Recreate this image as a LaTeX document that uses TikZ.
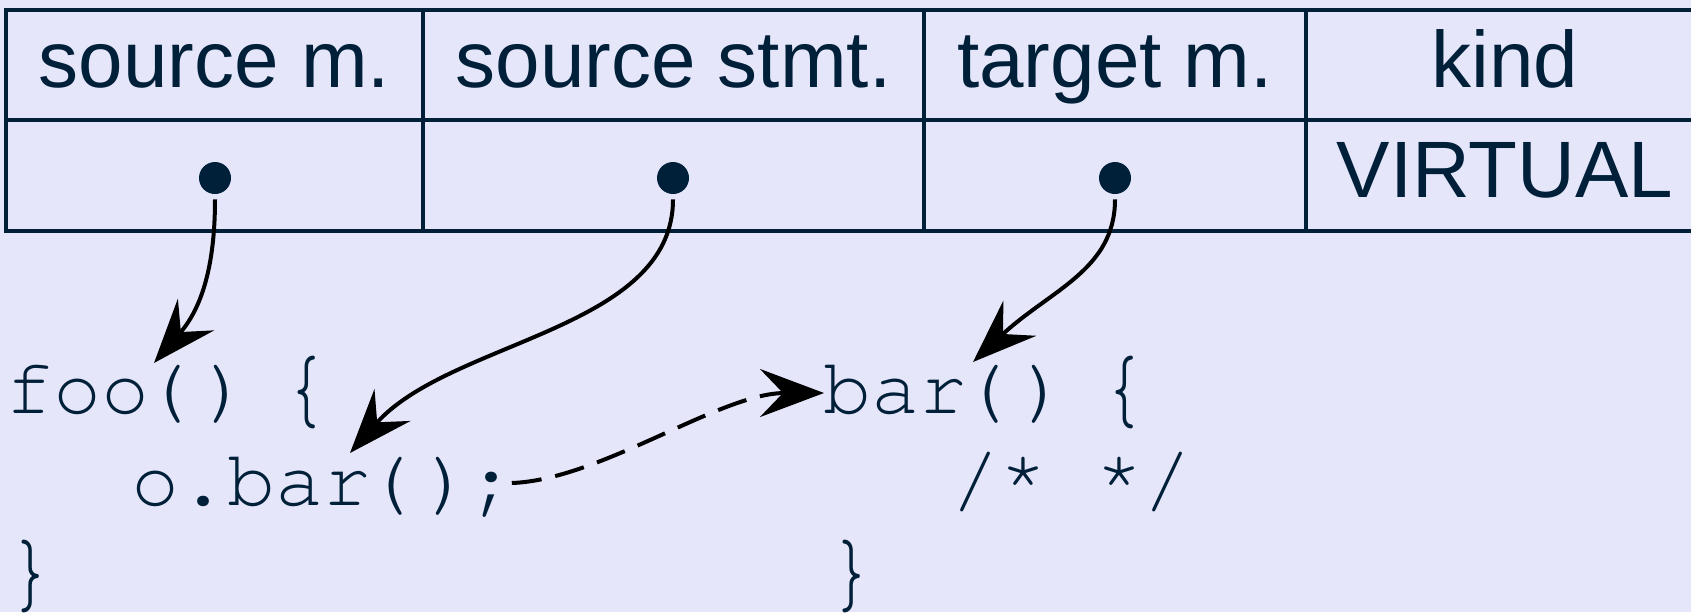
\documentclass[tikz,border=0pt]{standalone}
\usepackage{fontspec}
\usepackage{graphicx}
\setmainfont{Liberation Sans}
\newfontfamily\codefont{TeX Gyre Cursor}
\usetikzlibrary{arrows.meta}
\definecolor{bg}{HTML}{E6E6FA}
\definecolor{ink}{HTML}{00203A}
\newcommand\cparens{\kern-3pt(\kern5.5pt)\kern-2.5pt}
\newcommand\cobrace{\kern-6pt\raisebox{-1.5pt}{\scalebox{1.05}[1.25]{\{}}\kern6pt}
\newcommand\ccbrace{\raisebox{-1.5pt}{\scalebox{1.05}[1.25]{\}}}}
\begin{document}
\begin{tikzpicture}[x=0.5pt,y=-0.5pt,
  hdr/.style={font=\fontsize{40}{48}\selectfont, text=ink, anchor=base, inner sep=0pt},
  code/.style={font=\codefont\fontsize{40}{48}\selectfont, text=ink, anchor=base west, inner sep=0pt},
  dot/.style={circle, fill=ink, minimum size=16pt, inner sep=0pt},
  grid/.style={draw=ink, line width=1.7pt},
  tipstyle/.style={-{Stealth[length=32pt,width=24pt,inset=11.5pt]}},
  link/.style={line width=2pt, shorten <=2.5pt, tipstyle},
  calllink/.style={line width=2pt, dash pattern=on 15pt off 7pt, tipstyle}]
\useasboundingbox (0,0) rectangle (1691,612);
\fill[bg] (0,0) rectangle (1691,612);
% table
\draw[grid] (1691,10) -- (6,10) -- (6,231) -- (1691,231);
\draw[grid] (6,120) -- (1691,120);
\draw[grid] (423,10) -- (423,231);
\draw[grid] (924,10) -- (924,231);
\draw[grid] (1306,10) -- (1306,231);
\node[hdr] (h1) at (214.5,87) {source m.};
\node[hdr] (h2) at (673.5,87) {source stmt.};
\node[hdr] (h3) at (1115,87) {target m.};
\node[hdr] (h4) at (1505,87) {kind};
\node[hdr] (kind) at (1505,197) {VIRTUAL};
\node[dot] (d1) at (215,178) {};
\node[dot] (d2) at (673,178) {};
\node[dot] (d3) at (1115,178) {};
% code
\node[code] (foo) at (5,413) {foo\cparens{} \cobrace};
\node[code] (call) at (131,505) {o.bar\cparens;};
\node[code] (fooend) at (5,597) {\ccbrace};
\node[code] (bar) at (823,413) {bar\cparens{} \cobrace};
\node[code] (comment) at (951,505) {/* */};
\node[code] (barend) at (826,597) {\ccbrace};
% connectors
\draw[link] (d1.south) .. controls (215,270) and (200,310) .. ([shift={(149,-50)}]foo.base west);
\draw[link] (d2.south) .. controls (673,330) and (450,340) .. ([shift={(219,-52)}]call.base west);
\draw[link] (d3.south) .. controls (1115,270) and (1050,290) .. ([shift={(150,-51)}]bar.base west);
\draw[calllink] ([shift={(-4,-22)}]call.base east) .. controls (600,480) and (720,393) .. ([shift={(1,-20)}]bar.base west);
\end{tikzpicture}
\end{document}
